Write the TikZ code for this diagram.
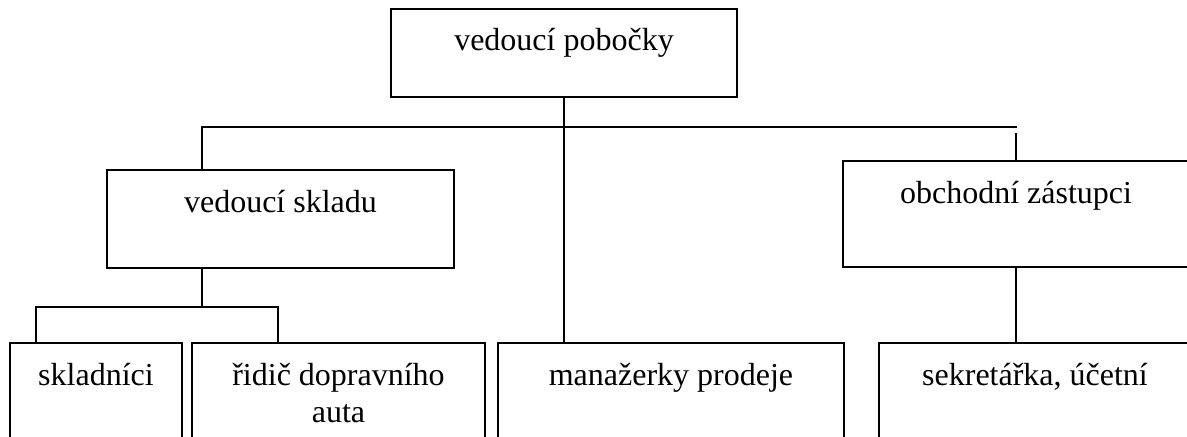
\documentclass[tikz,border=0pt]{standalone}
\usepackage{fontspec}
\setmainfont{Liberation Serif}
\usepackage{tikz}

\begin{document}
\begin{tikzpicture}[x=0.375pt, y=-0.375pt, line width=0.75pt,
    postbox/.style={draw, inner sep=0pt, text height=15.75pt, font=\fontsize{12}{14}\selectfont}]
    \useasboundingbox (0,0) rectangle (1187,436);
    % top level
    \node[postbox, minimum width=129.75pt, text height=15.375pt, text depth=17.625pt] (boss) at (564,53) {vedoucí pobočky};
    % second level
    \node[postbox, minimum width=130.125pt, text depth=21pt] (sklad) at (280.5,219) {vedoucí skladu};
    \node[postbox, minimum width=129.75pt, text depth=24pt] (obch) at (1016,214) {obchodní zástupci};
    % third level
    \node[postbox, minimum width=64.5pt, text depth=28.125pt] (skl) at (96,401.5) {skladníci};
    \node[postbox, minimum width=109.875pt, text depth=28.125pt] (rid) at (338.5,401.5)
        {\begin{tabular}[t]{@{}c@{}}řidič dopravního\\auta\end{tabular}};
    \node[postbox, minimum width=129.75pt, text depth=28.125pt] (manz) at (671,401.5) {manažerky prodeje};
    \node[postbox, minimum width=117pt, text depth=28.125pt] (sekr) at (1035,401.5) {sekretářka, účetní};

    % connectors
    \coordinate (lt) at (202,127);
    \coordinate (rt) at (1017,127);
    \coordinate (rg) at (1016,133);
    \coordinate (ls) at (36,307);
    \coordinate (rs) at (278,307);
    \draw (boss.south) -- (boss.south |- manz.north);
    \draw (sklad.north -| lt) -- (lt) -- (rt);
    \draw (rg) -- (obch.north);
    \draw (obch.south) -- (obch.south |- sekr.north);
    \draw (sklad.south -| lt) -- (lt |- ls);
    \draw (skl.north -| ls) -- (ls) -- (rs) -- (rs |- rid.north);
\end{tikzpicture}
\end{document}
